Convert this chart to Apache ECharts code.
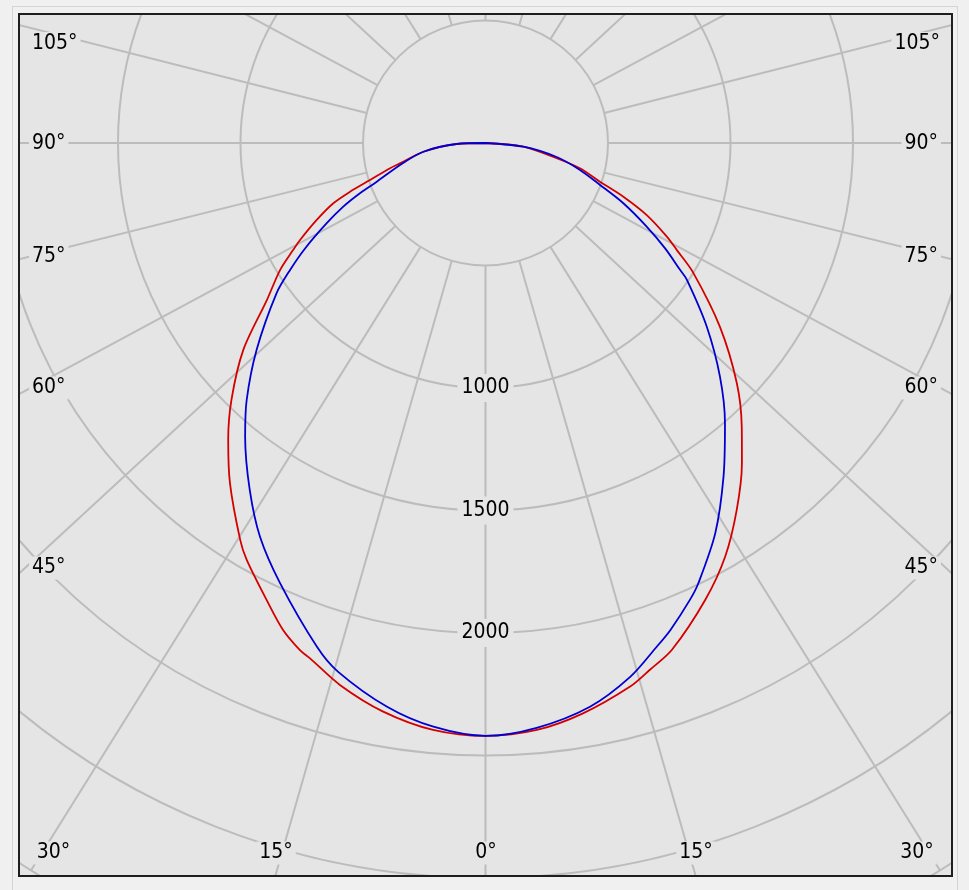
<!DOCTYPE html>
<html><head><meta charset="utf-8">
<script src="https://cdn.jsdelivr.net/npm/echarts@6/dist/echarts.min.js"></script>
<style>
html,body{margin:0;padding:0;background:#f0f0f0;width:969px;height:890px;overflow:hidden;}
#outer{position:absolute;left:12px;top:6px;width:946px;height:900px;border:1px solid #d4d4d4;box-sizing:border-box;}
#box{position:absolute;left:18px;top:13px;width:935px;height:864px;border:2px solid #1e1e1e;box-sizing:border-box;background:#e5e5e5;overflow:hidden;}
#chart{width:931px;height:860px;}
</style></head><body>
<div id="outer"></div>
<div id="box"><div id="chart"></div></div>
<script>
// ---- data (gamma in degrees: negative = right half, positive = left half; intensity in cd) ----
const redGamma = [-90,-84.4,-77.9,-75.0,-71.3,-68.7,-65.9,-62.7,-60.8,-58.1,-51.9,-46.3,-42.1,-38.7,-34.4,-30.1,-25.7,-20.2,-17.3,-14.9,-9.7,-5.0,0,
  5.1,10.2,15.0,18.8,20.1,22.6,25.6,29.8,31.7,36.9,40.9,44.7,49.5,54.3,58.3,60.9,62.4,65.5,68.4,70.2,72.2,75.2,76.6,82.0,88.0,90];
const redIntensity = [0,155,297,399,493,604,721,833,894,997,1216,1419,1560,1674,1815,1951,2069,2204,2253,2296,2362,2405,2420,
  2405,2358,2291,2222,2204,2152,2068,1961,1905,1737,1604,1474,1300,1099,985,899,854,757,668,588,495,403,359,256,118,0];
const blueGamma = [-90,-84.4,-78.9,-74.1,-69.9,-66.4,-62.6,-59.6,-56.9,-55.8,-50.3,-45.1,-40.5,-35.5,-30.5,-25.8,-24.1,-20.8,-18.8,-15.2,-10.5,-5.0,0,
  5.1,9.9,15.6,18.5,25.0,29.8,34.2,39.3,42.9,47.9,54.3,57.0,59.7,63.2,65.9,68.2,70.4,75.6,82.0,88.0,90];
const blueIntensity = [0,155,296,401,498,614,741,850,948,994,1174,1351,1505,1673,1848,1996,2043,2126,2171,2257,2340,2396,2420,
  2392,2336,2240,2168,1983,1852,1712,1549,1432,1259,1050,951,853,726,636,552,471,360,256,118,0];
const radiusTicks = [500,1000,1500,2000,2500,3000,3500];
const radiusLabelValues = [1000,1500,2000];
const spokeAngles = [0,16,32,47.3,61.7,76,90,104.2,118.2,132.7,148,164,180]; // as drawn in the picture
const sideLabels = ['105°','90°','75°','60°','45°'];
const bottomLabels = ['30°','15°','0°','15°','30°'];

// ---- layout ----
const FONT = '"DejaVu Sans Condensed","DejaVu Sans","Liberation Sans",sans-serif';
const FS = 21;
const BG = '#e5e5e5';
const GRID = '#bcbcbc';
const CENTER = [465.5,128];
const R_OUT = 857.5, R_IN = 122.5;
const toAxis = g => (g < 0 ? 360 + g : g);
const spokeValues = [];
spokeAngles.forEach(a => { spokeValues.push(a); if (a > 0 && a < 180) spokeValues.push(360 - a); });
spokeValues.sort((a,b)=>a-b);

const sideY = [28.5,128.5,242,373,553];
const bottomX = [33.5,256,466,676,897];
const bottomY = 838;
const graphics = [];
const txt = (t,x,y,align) => ({type:'text', x:x, y:y, z:100,
  style:{text:t, font:FS+'px '+FONT, fill:'#000', align:align, verticalAlign:'middle', backgroundColor:BG, padding:[1,3]}});
sideLabels.forEach((t,i) => {
  graphics.push(txt(t, 9, sideY[i], 'left'));
  graphics.push(txt(t, i===0?923:921, sideY[i], 'right'));
});
bottomLabels.forEach((t,i) => graphics.push(txt(t, bottomX[i], bottomY, 'center')));

const hidden = {axisLine:{show:false}, axisTick:{show:false}, axisLabel:{show:false}, splitLine:{show:false}, splitArea:{show:false}};

const chart = echarts.init(document.getElementById('chart'), null, {renderer:'canvas'});
chart.setOption({
  animation:false,
  backgroundColor:BG,
  polar:[
    {center:CENTER, radius:[0,R_OUT]},          // data
    {center:CENTER, radius:[R_IN,R_OUT]}        // grid
  ],
  angleAxis:[
    Object.assign({polarIndex:0, type:'value', min:0, max:360, startAngle:-90, clockwise:true}, hidden),
    {polarIndex:1, type:'value', min:0, max:360, interval:15, startAngle:-90, clockwise:true, z:1,
      axisLine:{show:false}, axisTick:{show:false, customValues:spokeValues}, axisLabel:{show:false},
      splitLine:{show:true, lineStyle:{color:GRID, width:2}}}
  ],
  radiusAxis:[
    Object.assign({polarIndex:0, type:'value', min:0, max:3500}, hidden),
    {polarIndex:1, type:'value', min:500, max:3500, interval:500, z:3,
      axisLine:{show:false}, axisTick:{show:false, customValues:radiusTicks},
      axisLabel:{show:true, customValues:radiusLabelValues, margin:0, align:'center', verticalAlign:'middle',
        formatter:v => String(v), fontSize:FS, fontFamily:FONT, color:'#000', backgroundColor:BG, padding:[7,4,0,4]},
      splitLine:{show:true, lineStyle:{color:GRID, width:2}}}
  ],
  graphic:graphics,
  series:[
    {type:'line', coordinateSystem:'polar', polarIndex:0, clip:false, symbol:'none', smooth:0.3, z:5,
     lineStyle:{color:'#d40000', width:1.8},
     data:redGamma.map((g,i)=>[redIntensity[i], toAxis(g)])},
    {type:'line', coordinateSystem:'polar', polarIndex:0, clip:false, symbol:'none', smooth:0.3, z:6,
     lineStyle:{color:'#0000d2', width:1.8},
     data:blueGamma.map((g,i)=>[blueIntensity[i], toAxis(g)])}
  ]
});
</script></body></html>
